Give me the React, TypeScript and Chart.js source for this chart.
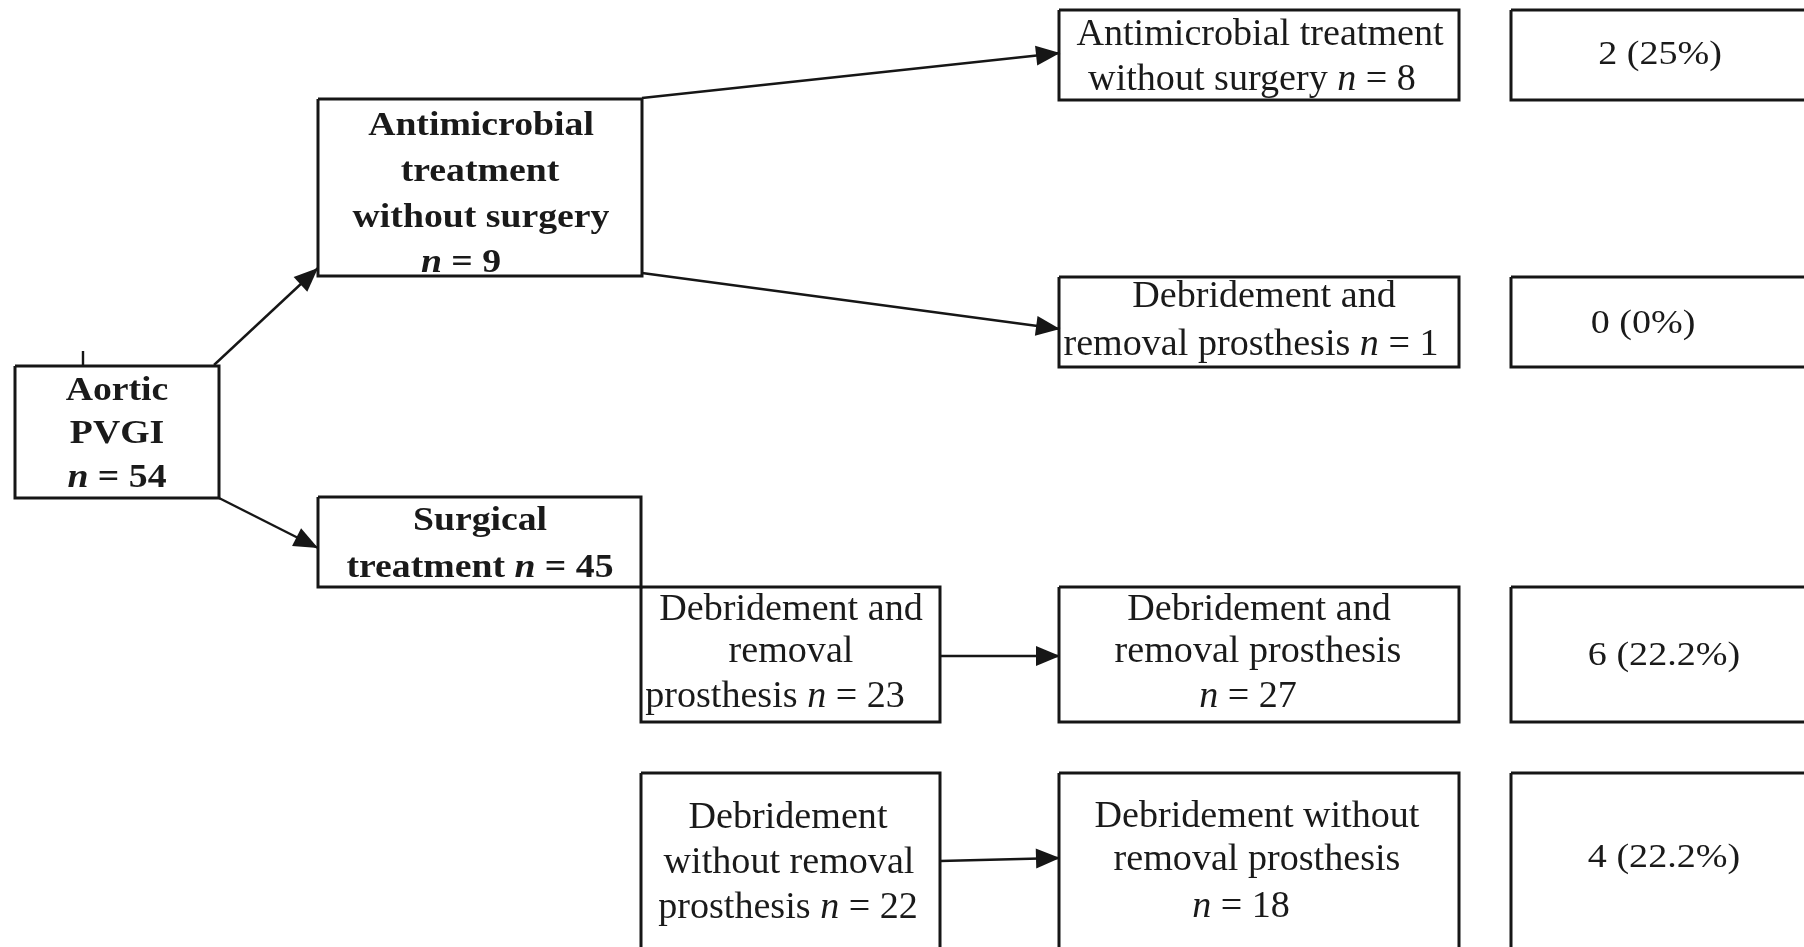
import React, { useEffect, useRef } from "react";
import { Chart, registerables } from "chart.js";

Chart.register(...registerables);

// ---- content ----
const nodeLines: string[][] = [
  ["Aortic", "PVGI", "n = {n}"],
  ["Antimicrobial", "treatment", "without surgery", "n = {n}"],
  ["Surgical", "treatment n = {n}"],
  ["Antimicrobial treatment", "without surgery n = {n}"],
  ["Debridement and", "removal prosthesis n = {n}"],
  ["Debridement and", "removal", "prosthesis n = {n}"],
  ["Debridement", "without removal", "prosthesis n = {n}"],
  ["Debridement and", "removal prosthesis", "n = {n}"],
  ["Debridement without", "removal prosthesis", "n = {n}"],
];
const nodeCounts = [54, 9, 45, 8, 1, 23, 22, 27, 18];
const nodeBold = [true, true, true, false, false, false, false, false, false];

const outcomeCounts = [2, 0, 6, 4];
const outcomePercents = ["25%", "0%", "22.2%", "22.2%"];

// ---- layout (data units of the hidden scales) ----
const nodeBoxes = [
  [15, 366, 219, 498],
  [318, 99, 642, 276],
  [318, 497, 641, 587],
  [1059, 10, 1459, 100],
  [1059, 277, 1459, 367],
  [641, 587, 940, 722],
  [641, 773, 940, 965],
  [1059, 587, 1459, 722],
  [1059, 773, 1459, 965],
];
const nodeTextX = [
  [117, 117, 117],
  [481, 480, 481, 461],
  [480, 480],
  [1260, 1252],
  [1264, 1251],
  [791, 791, 775],
  [788, 789, 788],
  [1259, 1258, 1248],
  [1257, 1257, 1241],
];
const nodeTextY = [
  [400, 443, 487],
  [135, 181, 227, 272],
  [530, 577],
  [45, 90],
  [307, 355],
  [620, 662, 707],
  [828, 873, 918],
  [620, 662, 707],
  [827, 870, 917],
];
const outcomeBoxes = [
  [1511, 10, 1815, 100],
  [1511, 277, 1815, 367],
  [1511, 587, 1815, 722],
  [1511, 773, 1815, 965],
];
const outcomeTextX = [1660, 1643, 1664, 1664];
const outcomeTextY = [64, 333, 665, 867];

// arrows: [x0, y0, x1, y1]
const arrows = [
  [214, 365, 318, 268],
  [219, 498, 318, 548],
  [642, 98, 1060, 53],
  [642, 273, 1060, 329],
  [940, 656, 1060, 656],
  [940, 861, 1060, 858],
];
const ticks = [[83, 351, 83, 366]];

const LINE = "#161616";
const TEXT = "#1a1a1a";

function rect(b: number[]) {
  return [
    { x: b[0], y: b[1] },
    { x: b[2], y: b[1] },
    { x: b[2], y: b[3] },
    { x: b[0], y: b[3] },
    { x: b[0], y: b[1] },
  ];
}

function segmentsOf(line: string) {
  const parts = line.split(/(\bn\b(?= =))/);
  return parts.filter((p) => p.length > 0).map((p) => ({ t: p, it: p === "n" }));
}

const textPlugin = {
  id: "flowText",
  afterDatasetsDraw(chart: any) {
    const ctx = chart.ctx as CanvasRenderingContext2D;
    const xs = chart.scales.x;
    const ys = chart.scales.y;
    const family = '"Liberation Serif", "Times New Roman", serif';

    const drawLine = (line: string, cx: number, base: number, bold: boolean, size: number, sx: number) => {
      const segs = segmentsOf(line);
      const fontOf = (it: boolean) => `${it ? "italic " : ""}${bold ? "bold " : ""}${size}px ${family}`;
      let total = 0;
      const widths = segs.map((s) => {
        ctx.font = fontOf(s.it);
        const w = ctx.measureText(s.t).width * sx;
        total += w;
        return w;
      });
      let px = xs.getPixelForValue(cx) - total / 2;
      const py = ys.getPixelForValue(base);
      segs.forEach((s, i) => {
        ctx.save();
        ctx.font = fontOf(s.it);
        ctx.fillStyle = TEXT;
        ctx.textBaseline = "alphabetic";
        ctx.textAlign = "left";
        ctx.translate(px, py);
        ctx.scale(sx, 1);
        ctx.fillText(s.t, 0, 0);
        ctx.restore();
        px += widths[i];
      });
    };

    // arrow heads
    ctx.save();
    ctx.fillStyle = LINE;
    arrows.forEach((a) => {
      const x0 = xs.getPixelForValue(a[0]);
      const y0 = ys.getPixelForValue(a[1]);
      const x1 = xs.getPixelForValue(a[2]);
      const y1 = ys.getPixelForValue(a[3]);
      const ang = Math.atan2(y1 - y0, x1 - x0);
      const L = 24;
      const W = 10;
      ctx.beginPath();
      ctx.moveTo(x1, y1);
      ctx.lineTo(x1 - L * Math.cos(ang) + W * Math.sin(ang), y1 - L * Math.sin(ang) - W * Math.cos(ang));
      ctx.lineTo(x1 - L * Math.cos(ang) - W * Math.sin(ang), y1 - L * Math.sin(ang) + W * Math.cos(ang));
      ctx.closePath();
      ctx.fill();
    });
    ctx.restore();

    nodeLines.forEach((lines, i) => {
      lines.forEach((ln, j) => {
        const txt = ln.replace("{n}", String(nodeCounts[i]));
        if (nodeBold[i]) drawLine(txt, nodeTextX[i][j], nodeTextY[i][j], true, 34, 1.11);
        else drawLine(txt, nodeTextX[i][j], nodeTextY[i][j], false, 37, 1.03);
      });
    });
    outcomeCounts.forEach((c, i) => {
      drawLine(`${c} (${outcomePercents[i]})`, outcomeTextX[i], outcomeTextY[i], false, 34, 1.12);
    });
  },
};

export default function App() {
  const ref = useRef<HTMLCanvasElement | null>(null);
  useEffect(() => {
    if (!ref.current) return;
    const datasets: any[] = [];
    [...nodeBoxes, ...outcomeBoxes].forEach((b) => {
      datasets.push({
        data: rect(b),
        showLine: true,
        borderColor: LINE,
        borderWidth: 3,
        pointRadius: 0,
        fill: false,
        tension: 0,
        borderJoinStyle: "miter",
      });
    });
    [...arrows, ...ticks].forEach((a) => {
      datasets.push({
        data: [
          { x: a[0], y: a[1] },
          { x: a[2], y: a[3] },
        ],
        showLine: true,
        borderColor: LINE,
        borderWidth: 2.4,
        pointRadius: 0,
        fill: false,
      });
    });
    const chart = new Chart(ref.current, {
      type: "scatter",
      data: { datasets },
      options: {
        responsive: false,
        maintainAspectRatio: false,
        animation: false,
        events: [],
        layout: { padding: 0 },
        plugins: { legend: { display: false }, tooltip: { enabled: false }, title: { display: false } },
        scales: {
          x: { type: "linear", min: 0, max: 1804, display: false },
          y: { type: "linear", min: 0, max: 947, reverse: true, display: false },
        },
      },
      plugins: [textPlugin],
    });
    return () => chart.destroy();
  }, []);
  return (
    <div style={{ position: "fixed", left: 0, top: 0, width: 1804, height: 947, background: "#fff" }}>
      <canvas ref={ref} width={1804} height={947} style={{ display: "block" }} />
    </div>
  );
}
